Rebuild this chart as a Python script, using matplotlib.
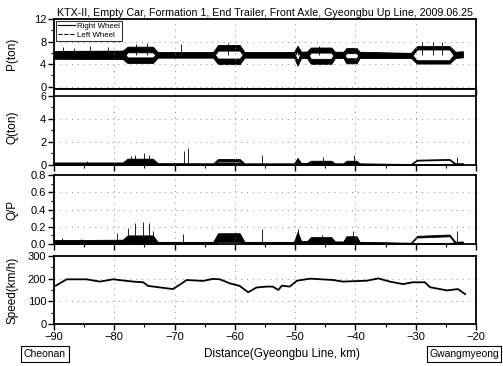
import numpy as np
import matplotlib
matplotlib.use('Agg')
import matplotlib.pyplot as plt
from matplotlib.ticker import MultipleLocator

plt.rcParams['font.family'] = ['Liberation Sans', 'DejaVu Sans']

# knots along the line (km)
km = [-90, -78.6, -77.8, -73.6, -72.8, -63.6, -62.8, -59.2, -58.4, -50.2, -49.6, -49.0, -48.0,
      -47.4, -44.0, -43.4, -42.0, -41.5, -39.8, -39.3, -30.8, -29.8, -24.4, -23.4, -22.2]

# wheel load P (ton): band centre and half width
p_right = [5.7, 5.7, 6.6, 6.6, 5.7, 5.7, 6.9, 6.9, 5.7, 5.7, 6.8, 5.7, 5.7,
           6.5, 6.5, 5.7, 5.7, 6.4, 6.4, 5.7, 5.6, 6.9, 6.9, 5.7, 5.8]
p_left = [5.6, 5.6, 4.7, 4.7, 5.6, 5.6, 4.5, 4.5, 5.6, 5.6, 4.2, 5.6, 5.6,
          4.5, 4.5, 5.6, 5.6, 4.6, 4.6, 5.6, 5.5, 4.4, 4.4, 5.6, 5.7]
p_hw = [0.65, 0.7, 0.5, 0.5, 0.45, 0.45, 0.5, 0.5, 0.45, 0.45, 0.45, 0.5, 0.55,
        0.45, 0.45, 0.5, 0.5, 0.45, 0.45, 0.5, 0.4, 0.3, 0.3, 0.5, 0.5]
p_spk_km = [-88.5, -86.7, -84, -81, -76.4, -74.6, -69, -61.2, -49.5, -46, -29, -27.2, -25.6]
p_spk = [7.0, 6.9, 7.2, 7.0, 7.6, 7.8, 7.6, 7.7, 7.3, 7.3, 8.0, 8.0, 8.0]

# lateral force Q (ton)
q_right = [0.12, 0.12, 0.35, 0.35, 0.1, 0.08, 0.42, 0.42, 0.08, 0.08, 0.4, 0.1, 0.1,
           0.25, 0.25, 0.08, 0.08, 0.25, 0.25, 0.08, 0.05, 0.42, 0.48, 0.08, 0.1]
q_left = [0.08, 0.08, 0.15, 0.15, 0.06, 0.06, 0.12, 0.12, 0.05, 0.05, 0.2, 0.06, 0.06,
          0.1, 0.1, 0.05, 0.05, 0.1, 0.1, 0.05, 0.03, 0.02, 0.02, 0.05, 0.06]
q_hw = [0.1, 0.1, 0.2, 0.2, 0.06, 0.06, 0.1, 0.1, 0.06, 0.06, 0.2, 0.08, 0.08,
        0.12, 0.12, 0.06, 0.06, 0.12, 0.12, 0.06, 0.04, 0.04, 0.04, 0.06, 0.06]
q_spk_km = [-84.5, -77.3, -76.5, -75.1, -74.2, -68.4, -67.8, -55.5, -49.6, -45.3, -40.3, -23.2]
q_spk = [0.35, 0.8, 0.9, 1.0, 0.9, 1.2, 1.5, 0.9, 0.6, 0.7, 0.9, 0.7]

# derailment coefficient Q/P
qp_right = [0.025, 0.03, 0.06, 0.06, 0.015, 0.015, 0.1, 0.1, 0.015, 0.015, 0.09, 0.02, 0.02,
            0.05, 0.05, 0.02, 0.02, 0.06, 0.06, 0.015, 0.01, 0.085, 0.1, 0.015, 0.02]
qp_left = [0.02, 0.02, 0.04, 0.04, 0.01, 0.01, 0.05, 0.05, 0.01, 0.01, 0.05, 0.015, 0.015,
           0.025, 0.025, 0.01, 0.01, 0.025, 0.025, 0.01, 0.005, 0.003, 0.003, 0.01, 0.015]
qp_hw = [0.02, 0.02, 0.04, 0.04, 0.01, 0.01, 0.025, 0.025, 0.01, 0.01, 0.05, 0.015, 0.015,
         0.03, 0.03, 0.01, 0.01, 0.03, 0.03, 0.01, 0.005, 0.01, 0.01, 0.01, 0.01]
qp_spk_km = [-88.6, -85.5, -79.5, -77.7, -76.5, -75.3, -74.3, -73.6, -68.6, -55.5,
             -49.6, -45.5, -40.4, -23.2]
qp_spk = [0.07, 0.06, 0.13, 0.18, 0.24, 0.25, 0.24, 0.15, 0.12, 0.17, 0.17, 0.1, 0.15, 0.15]

# running speed (km/h)
sp_km = [-89.7, -87.9, -84.6, -82.4, -80.2, -76.9, -75.2, -74.4, -70.3, -68.8, -68.0, -65.3,
         -63.6, -62.5, -60.8, -59.2, -57.8, -56.4, -54.7, -53.7, -52.8, -52.2, -50.9, -49.7,
         -47.5, -43.7, -42.1, -38.1, -36.2, -34.3, -32.1, -30.5, -28.5, -27.6, -24.8, -23.0, -21.8]
speed = [169, 197, 197, 187, 197, 187, 184, 168, 154, 179, 194, 190,
         199, 197, 179, 168, 140, 161, 165, 165, 150, 169, 165, 191,
         200, 194, 187, 191, 201, 187, 176, 184, 184, 162, 148, 154, 132]

fig = plt.figure(figsize=(5.03, 3.66), dpi=100)
L, W = 54 / 503, 422 / 503
ax1 = fig.add_axes([L, 0.7568, W, 0.1913])
ax2 = fig.add_axes([L, 0.5492, W, 0.2077])
ax3 = fig.add_axes([L, 0.3333, W, 0.1885])
ax4 = fig.add_axes([L, 0.1148, W, 0.1858])

# P
ax1.fill_between(km, np.array(p_right) - p_hw, np.array(p_right) + p_hw, color='k', lw=0.6)
ax1.fill_between(km, np.array(p_left) - p_hw, np.array(p_left) + p_hw, color='k', lw=0.6)
ax1.vlines(p_spk_km, 5.6, p_spk, color='k', lw=0.6)
ax1.plot([], [], 'k-', lw=0.8, label='Right Wheel')
ax1.plot([], [], 'k--', lw=0.8, label='Left Wheel')
leg = ax1.legend(loc='upper left', fontsize=5.7, frameon=True, fancybox=False,
                 borderpad=0.25, handlelength=2.2, handletextpad=0.3, labelspacing=0.15,
                 borderaxespad=0.2)
leg.get_frame().set_edgecolor('k')
leg.get_frame().set_linewidth(0.8)
ax1.set_ylim(-0.4, 12)
ax1.set_yticks([0, 4, 8, 12])
ax1.yaxis.set_minor_locator(MultipleLocator(2))
ax1.set_ylabel('P(ton)')

# Q
ax2.fill_between(km, np.array(q_right) - q_hw, np.array(q_right) + q_hw, color='k', lw=0.6)
ax2.fill_between(km, np.array(q_left) - q_hw, np.array(q_left) + q_hw, color='k', lw=0.6)
ax2.vlines(q_spk_km, 0, q_spk, color='k', lw=0.6)
ax2.axhline(6, color='k', lw=1.2)
ax2.set_ylim(0, 6.6)
ax2.set_yticks([0, 2, 4, 6])
ax2.yaxis.set_minor_locator(MultipleLocator(1))
ax2.set_ylabel('Q(ton)')

# Q/P
ax3.fill_between(km, np.clip(np.array(qp_right) - qp_hw, 0, None), np.array(qp_right) + qp_hw,
                 color='k', lw=0.6)
ax3.fill_between(km, np.clip(np.array(qp_left) - qp_hw, 0, None), np.array(qp_left) + qp_hw,
                 color='k', lw=0.6)
ax3.vlines(qp_spk_km, 0, qp_spk, color='k', lw=0.6)
ax3.set_ylim(0, 0.8)
ax3.set_yticks([0.0, 0.2, 0.4, 0.6, 0.8])
ax3.set_yticklabels(['0.0', '0.2', '0.4', '0.6', '0.8'])
ax3.yaxis.set_minor_locator(MultipleLocator(0.1))
ax3.set_ylabel('Q/P')

# speed
ax4.plot(sp_km, speed, color='k', lw=1.3)
ax4.set_ylim(0, 300)
ax4.set_yticks([0, 100, 200, 300])
ax4.yaxis.set_minor_locator(MultipleLocator(50))
ax4.set_ylabel('Speed(km/h)')

for ax in [ax1, ax2, ax3, ax4]:
    ax.set_xlim(-90, -20)
    ax.xaxis.set_major_locator(MultipleLocator(10))
    ax.xaxis.set_minor_locator(MultipleLocator(5))
    ax.grid(True, which='major', color='0.55', ls=(0, (1, 5)), lw=0.7)
    ax.tick_params(which='major', direction='out', length=4, width=1, labelsize=8, pad=1.5)
    ax.tick_params(which='minor', direction='out', length=2, width=0.8)
    for s in ax.spines.values():
        s.set_linewidth(1.3)
    ax.yaxis.set_label_coords(-0.085, 0.5)
    ax.yaxis.label.set_fontsize(8.5)
    if ax is not ax4:
        ax.tick_params(labelbottom=False)

# "0" of P and "6" of Q sit tight together, as in the scan
ax2.get_yticklabels()[-1].set_fontsize(7.5)

ax1.set_title('KTX-II, Empty Car, Formation 1, End Trailer, Front Axle, Gyeongbu Up Line, 2009.06.25',
              fontsize=7.7, pad=2.5)

fig.text(282 / 503, 1 - 354 / 366, 'Distance(Gyeongbu Line, km)', ha='center', va='center', fontsize=8.5)
box = dict(boxstyle='square,pad=0.25', fc='white', ec='k', lw=0.8)
fig.text(45 / 503, 1 - 354 / 366, 'Cheonan', ha='center', va='center', fontsize=7.5, bbox=box)
fig.text(464 / 503, 1 - 354 / 366, 'Gwangmyeong', ha='center', va='center', fontsize=7.5, bbox=box)

fig.savefig('out.png', dpi=100)
